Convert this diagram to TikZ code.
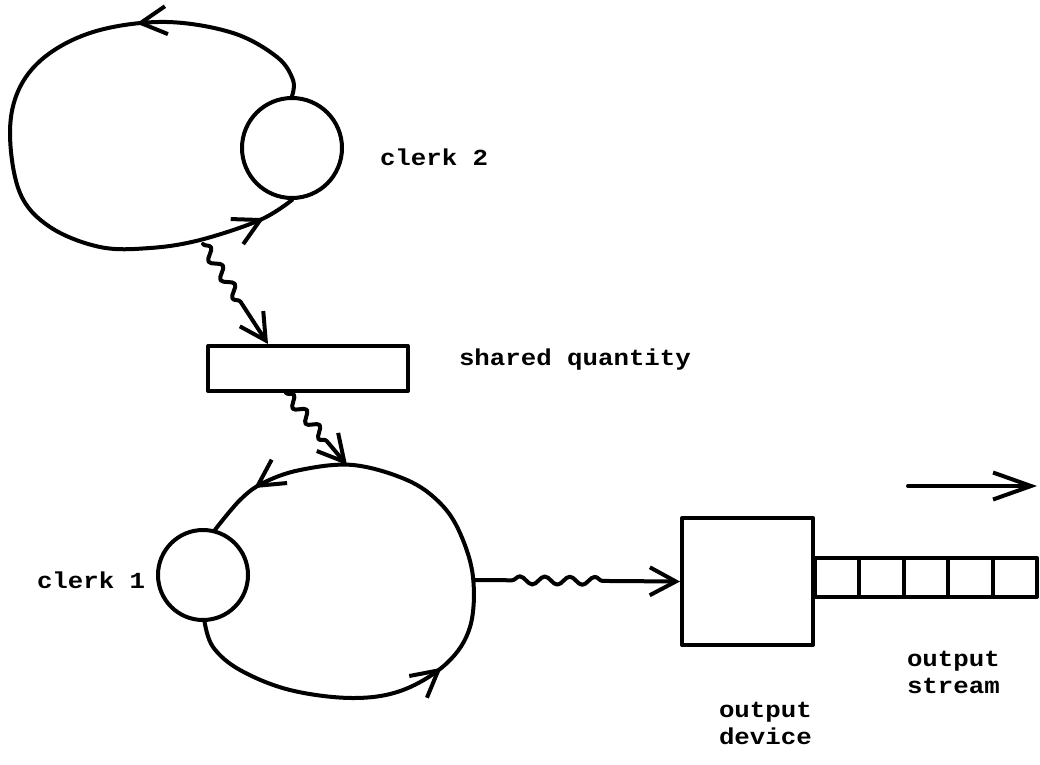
\documentclass[tikz,border=0pt]{standalone}
\usepackage{fontspec}
\newfontfamily\tw[FakeStretch=1.12]{Liberation Mono}
\usetikzlibrary{arrows.meta,decorations.pathmorphing,decorations.markings,calc}
\tikzset{
  barbtip/.tip={Straight Barb[length=26pt,width=28pt]},
  longtip/.tip={Straight Barb[length=38pt,width=27pt]},
}
\begin{document}
\begin{tikzpicture}[x=1pt,y=-1pt, line width=4pt, line cap=round, line join=round,
  lbl/.style={font=\tw\bfseries\fontsize{23}{27}\selectfont, inner sep=0pt, anchor=base west, align=left},
  ring/.style={draw, circle, inner sep=0pt},
  box/.style={draw, rectangle, inner sep=0pt},
  cell/.style={draw, rectangle, inner sep=0pt, outer sep=0pt, minimum width=44.4pt, minimum height=39pt},
  wig/.style={decorate, decoration={snake, amplitude=5pt, segment length=22pt}},
]
\useasboundingbox[fill=white] (0,0) rectangle (1040,764);

% clerk 2
\node[ring, minimum size=100pt] (c2) at (292,148) {};
\draw[decoration={markings,
    mark=at position 0.26 with {\arrow{barbtip}},
    mark=at position 0.955 with {\arrow{barbtip}}}, postaction={decorate}]
  plot[smooth, tension=0.6] coordinates {(c2.north) (293,80) (277,57) (233,33) (167,22) (100,30) (50,53) (20,87) (10,133) (20,193) (50,227) (100,247) (150,248) (200,240) (260,220) (c2.south)};
\coordinate (l2b) at (203,244);
\node[lbl] (t2) at (378,165) {clerk 2};

% shared quantity
\node[box, minimum width=200pt, minimum height=45pt] (sq) at (308,368.5) {};
\node[lbl] (tsq) at (457,365) {shared quantity};

% clerk 1
\node[ring, minimum size=90pt] (c1) at (203,575) {};
\draw[decoration={markings,
    mark=at position 0.385 with {\arrow{barbtip}},
    mark=at position 0.92 with {\arrow{barbtip}}}, postaction={decorate}]
  plot[smooth, tension=0.6] coordinates {(c1.-88) (213,647) (240,670) (290,690) (353,698) (403,690) (447,663) (470,627) (473,577) (460,533) (440,503) (407,480) (353,465) (300,470) (263,483) (240,500) (c1.75)};
\coordinate (l1t) at (347,465);
\coordinate (l1r) at (474,580);
\node[lbl] (t1) at (35,588) {clerk 1};

% output device and stream
\node[box, minimum width=131pt, minimum height=127pt] (dev) at (747.5,581.5) {};
\node[cell, anchor=west] (s1) at (dev.east |- 0,577.5) {};
\node[cell, anchor=west] (s2) at (s1.east) {};
\node[cell, anchor=west] (s3) at (s2.east) {};
\node[cell, anchor=west] (s4) at (s3.east) {};
\node[cell, anchor=west] (s5) at (s4.east) {};
\node[lbl] (tdev) at (717,744) {output\\device};
\node[lbl] (tst) at (905,693) {output\\stream};

\coordinate (fa) at (908,486);
\coordinate (fb) at (1037,486);
\draw[-longtip] (fa) -- (fb);

% wavy connectors
\draw[wig, decoration={post length=42pt}, -barbtip] (l2b) -- ($(sq.north west)+(62,0)$);
\draw[wig, decoration={post length=28pt, segment length=20pt}, -barbtip] ($(sq.south west)+(80,0)$) -- (l1t);
\draw[wig, decoration={pre length=38pt, post length=66pt, segment length=25pt, amplitude=4pt}, -barbtip] (l1r) -- (dev.west);
\end{tikzpicture}
\end{document}
